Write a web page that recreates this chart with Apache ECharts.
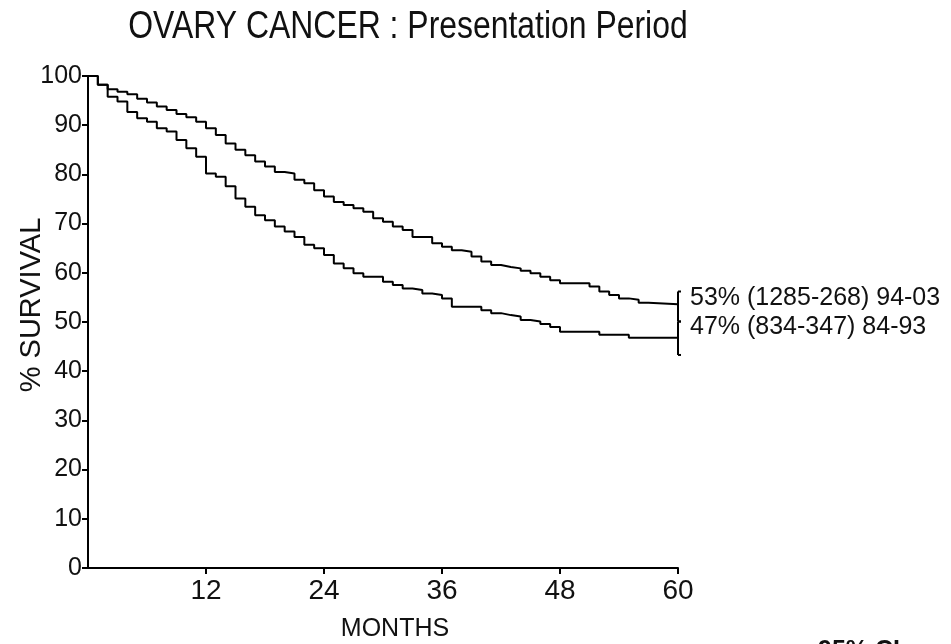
<!DOCTYPE html>
<html>
<head>
<meta charset="utf-8">
<script src="https://cdn.jsdelivr.net/npm/echarts@6/dist/echarts.min.js"></script>
<style>
html,body{margin:0;padding:0;background:#fff;}
#chart{width:951px;height:644px;}
</style>
</head>
<body>
<div id="chart"></div>
<script>
// Period 1994-2003 (upper curve)
const monthsA = [0,1,2,3,4,5,6,7,8,9,10,11,12,13,14,15,16,17,18,19,20,21,22,23,24,25,26,27,28,29,30,31,32,33,35,36,37,38,39,40,41,42,43,44,45,46,47,48,51,52,53,54,55,56,57,60];
const survivalA = [100,98.2,97.3,96.8,96.3,95.4,94.6,93.8,93.1,92.3,91.6,90.7,89.4,88,86.3,85,83.9,82.6,81.6,80.5,80.2,78.9,78.2,76.8,75.5,74.4,73.8,73.1,72.4,71.1,70.4,69.4,68.7,67.3,66,65.3,64.6,64.3,63.3,62.3,61.6,61.2,60.9,60.4,59.9,59.2,58.5,57.9,57.2,56.2,55.5,54.8,54.5,53.9,53.6,53.6];
// Period 1984-1993 (lower curve)
const monthsB = [0,1,2,3,4,5,6,7,8,9,10,11,12,13,14,15,16,17,18,19,20,21,22,23,24,25,26,27,28,30,31,32,33,34,35,36,37,40,41,42,43,44,45,46,47,48,52,55,60];
const survivalB = [100,98.2,95.8,94.8,92.7,91.4,90.7,89.4,88.7,87,85.3,83.6,80.2,79.5,77.6,75.1,73.4,71.7,70.7,69.4,68.4,67.3,65.7,65,63.6,61.9,60.9,59.9,59.2,58.2,57.5,56.8,56.5,55.8,55.5,54.8,53.1,52.4,51.8,51.4,51.1,50.4,50.1,49.6,49,48,47.4,46.8,46.8];
// 95% confidence intervals at 60 months: [month, high, low]
const ciA = [60, 56.2, 50.1];
const ciB = [60, 50.1, 43.3];
const labelA = '53% (1285-268) 94-03';
const labelB = '47% (834-347) 84-93';
const xTicks = [0,12,24,36,48,60];
const titleText = 'OVARY CANCER : Presentation Period';

const pairs = (m, s) => m.map((v, i) => [v, s[i]]);

const chart = echarts.init(document.getElementById('chart'), null, {renderer: 'canvas'});
const sans = '"Liberation Sans", Arial, sans-serif';

chart.setOption({
  animation: false,
  backgroundColor: '#fff',
  grid: {left: 88, right: 273, top: 76, bottom: 76, containLabel: false, outerBoundsMode: 'none'},
  xAxis: {
    type: 'value', min: 0, max: 60, interval: 12,
    name: 'MONTHS', nameLocation: 'middle', nameGap: 49, nameMoveOverlap: false,
    nameTextStyle: {fontFamily: sans, fontSize: 25, color: '#111', padding: [0, 0, 0, 24]},
    axisLine: {show: true, onZero: false, lineStyle: {color: '#000', width: 2}},
    axisTick: {show: true, length: 6, lineStyle: {color: '#000', width: 2}},
    axisLabel: {showMinLabel: false, margin: 9, fontFamily: sans, fontSize: 28, color: '#111',
      formatter: v => xTicks.includes(v) ? String(v) : ''},
    splitLine: {show: false}
  },
  yAxis: {
    type: 'value', min: 0, max: 100, interval: 10,
    name: '% SURVIVAL', nameLocation: 'middle', nameGap: 42, nameRotate: 90, nameMoveOverlap: false,
    nameTextStyle: {fontFamily: sans, fontSize: 29, color: '#111', padding: [0, 0, 0, 34]},
    axisLine: {show: true, onZero: false, lineStyle: {color: '#000', width: 2}},
    axisTick: {show: true, length: 6, lineStyle: {color: '#000', width: 2}},
    axisLabel: {margin: 6, fontFamily: sans, fontSize: 25, color: '#111'},
    splitLine: {show: false}
  },
  series: [
    {type: 'line', step: 'end', data: pairs(monthsA, survivalA), symbol: 'none',
     lineStyle: {color: '#000', width: 2}, z: 3},
    {type: 'line', step: 'end', data: pairs(monthsB, survivalB), symbol: 'none',
     lineStyle: {color: '#000', width: 2}, z: 3},
    {type: 'custom', data: [ciA, ciB], z: 4,
     renderItem: (params, api) => {
       const top = api.coord([api.value(0), api.value(1)]);
       const bot = api.coord([api.value(0), api.value(2)]);
       const st = {stroke: '#000', lineWidth: 2};
       return {type: 'group', children: [
         {type: 'line', shape: {x1: top[0], y1: top[1], x2: bot[0], y2: bot[1]}, style: st},
         {type: 'line', shape: {x1: top[0], y1: top[1], x2: top[0] + 3, y2: top[1]}, style: st},
         {type: 'line', shape: {x1: bot[0], y1: bot[1], x2: bot[0] + 3, y2: bot[1]}, style: st}
       ]};
     }}
  ],
  graphic: [
    {type: 'text', x: 408, y: 9, scaleX: 0.84,
     style: {text: titleText, font: '38px "Liberation Sans", Arial, sans-serif', fill: '#111', textAlign: 'center', textVerticalAlign: 'top'}},
    {type: 'text', left: 690, top: 286, style: {text: labelA, font: '25px "Liberation Sans", Arial, sans-serif', fill: '#111'}},
    {type: 'text', left: 690, top: 315, style: {text: labelB, font: '25px "Liberation Sans", Arial, sans-serif', fill: '#111'}},
    {type: 'text', left: 818, top: 639, style: {text: '95% CI', font: 'bold 25px "Liberation Sans", Arial, sans-serif', fill: '#111'}}
  ]
});
</script>
</body>
</html>
